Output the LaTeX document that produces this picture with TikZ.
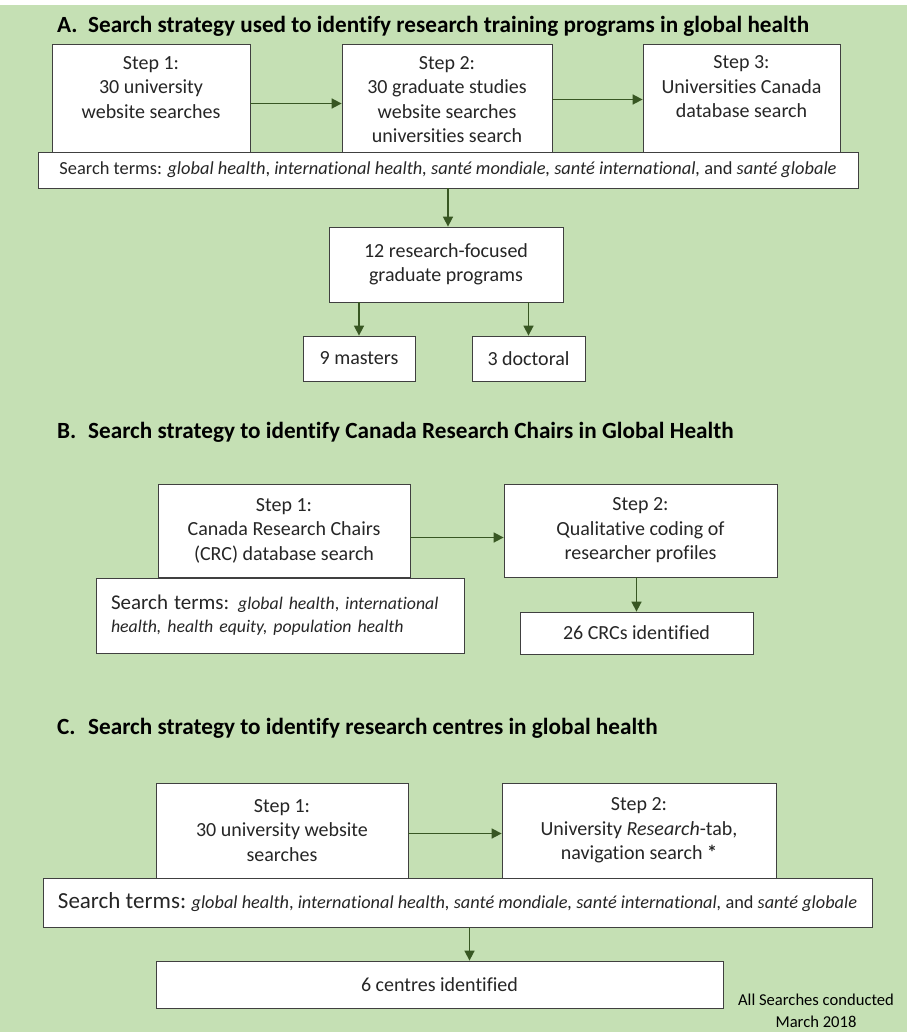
\documentclass[tikz,border=0pt]{standalone}
\usepackage{fontspec}
\setmainfont{Carlito}[Ligatures=NoCommon]
\usetikzlibrary{arrows.meta}

\definecolor{bggreen}{HTML}{C5E0B4}
\definecolor{arrowgreen}{HTML}{385723}

\begin{document}
\begin{tikzpicture}[x=1pt, y=-1pt,
        box/.style={draw=black!75, fill=white, line width=0.8pt, align=center, inner sep=0pt, text=black!85, font=\fontsize{20}{24.5}\selectfont},
        terms/.style={box, font=\fontsize{18.4}{23}\selectfont},
        arr/.style={draw=arrowgreen, line width=1.6pt, -{Triangle[length=10pt, width=10pt]}},
        heading/.style={anchor=west, inner sep=0pt, font=\fontsize{23.2}{27}\selectfont\bfseries}]
        % Page
        \useasboundingbox (0, 0) rectangle (907, 1032);
        \fill[bggreen] (0, 5) rectangle (907, 1032);

        % Part A
        \node[heading] (ta) at (57, 26) {\makebox[31pt][l]{A.}Search strategy used to identify research training programs in global health};
        \node[box, minimum width=198pt, minimum height=111pt] (a1) at (151, 99.5) {Step 1:\\30 university\\website searches\\~};
        \node[box, minimum width=210pt, minimum height=111pt] (a2) at (447, 99.5) {Step 2:\\30 graduate studies\\website searches\\universities search};
        \node[box, minimum width=197pt, minimum height=110pt] (a3) at (741.5, 99) {Step 3:\\Universities Canada\\database search\\~};
        \node[terms, minimum width=820pt, minimum height=36pt] (sa) at (448, 170) {Search terms: \textit{global health}, \textit{international health, santé mondiale, santé international,} and \textit{santé globale}};
        \node[box, minimum width=234pt, minimum height=75pt] (prog) at (446, 264.5) {12 research-focused\\graduate programs};
        \node[box, minimum width=112pt, minimum height=45pt] (ms) at (359, 358.5) {9 masters};
        \node[box, minimum width=113pt, minimum height=45pt] (dr) at (528.5, 358.5) {3 doctoral};

        \draw[arr] ([yshift=-4pt]a1.east) -- ([yshift=-4pt]a2.west);
        \draw[arr] (a2.east) -- (a2.east -| a3.west);
        \draw[arr] (sa.south) -- (sa.south |- prog.north);
        \draw[arr] (ms.north |- prog.south) -- (ms.north);
        \draw[arr] (dr.north |- prog.south) -- (dr.north);

        % Part B
        \node[heading] (tb) at (57, 432) {\makebox[31pt][l]{B.}Search strategy to identify Canada Research Chairs in Global Health};
        \node[box, minimum width=252pt, minimum height=93pt] (b1) at (284, 530.5) {Step 1:\\Canada Research Chairs\\(CRC) database search};
        \node[box, minimum width=273pt, minimum height=93pt] (b2) at (640.5, 530.5) {Step 2:\\Qualitative coding of\\researcher profiles};
        \node[terms, align=left, text width=338pt, minimum width=368pt, minimum height=75pt, font=\fontsize{17.8}{23}\selectfont] (sb) at (280, 615.5) {{\fontsize{21}{23}\selectfont Search terms:} \textit{global health}, \textit{international}\\\textit{health, health equity, population health}};
        \node[box, minimum width=233pt, minimum height=42pt] (crc) at (636.5, 633) {26 CRCs identified};

        \draw[arr] ([yshift=-7pt]b1.east) -- ([yshift=-7pt]b2.west);
        \draw[arr] (crc.north |- b2.south) -- (crc.north);

        % Part C
        \node[heading] (tc) at (57, 728) {\makebox[31pt][l]{C.}Search strategy to identify research centres in global health};
        \node[box, minimum width=252pt, minimum height=95pt] (c1) at (282, 830.5) {Step 1:\\30 university website\\searches};
        \node[box, minimum width=274pt, minimum height=95pt] (c2) at (639, 830.5) {Step 2:\\University \textit{Research}-tab,\\navigation search \textbf{*}};
        \node[terms, minimum width=829pt, minimum height=49pt, font=\fontsize{18.3}{23}\selectfont] (sc) at (457.5, 902.5) {{\fontsize{23}{26}\selectfont Search terms:} \textit{global health}, \textit{international health, santé mondiale, santé international,} and \textit{santé globale}};
        \node[box, minimum width=567pt, minimum height=47pt] (cen) at (439.5, 984.5) {6 centres identified};

        \draw[arr] ([yshift=-3pt]c1.east) -- ([yshift=-3pt]c2.west);
        \draw[arr] ([xshift=12pt]sc.south) -- ([xshift=12pt]sc.south |- cen.north);

        % Note
        \node[align=center, inner sep=0pt, font=\fontsize{16.6}{22}\selectfont] (note) at (816, 1011) {All Searches conducted\\March 2018};
    \end{tikzpicture}
\end{document}
